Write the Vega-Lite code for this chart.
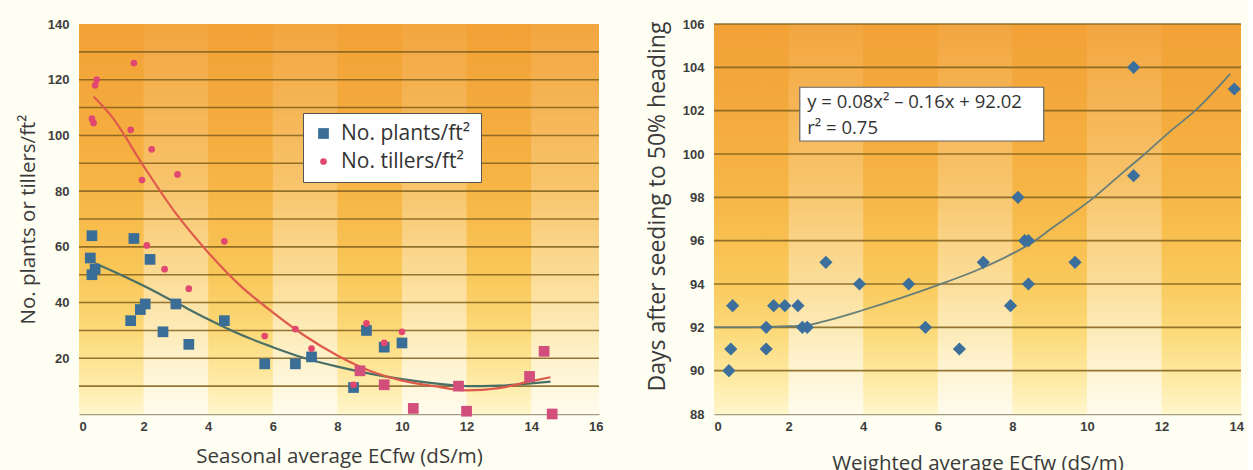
{
  "$schema": "https://vega.github.io/schema/vega-lite/v6.json",
  "background": "#fffef2",
  "padding": {"left": 18, "top": 18, "right": 4, "bottom": 0},
  "spacing": 115,
  "bounds": "flush",
  "config": {
    "view": {"stroke": null},
    "font": "Open Sans",
    "axis": {
      "labelFont": "Liberation Sans",
      "labelFontWeight": "bold",
      "labelFontSize": 13,
      "labelColor": "#3d3d3d",
      "ticks": false,
      "grid": false,
      "titleFont": "Open Sans",
      "titleFontWeight": "normal",
      "titleFontSize": 20.5,
      "titleColor": "#3a3a3a"
    },
    "axisY": {"domain": false, "labelPadding": 10, "titlePadding": 9},
    "axisX": {"domain": true, "domainColor": "#a39d84", "domainWidth": 1.5, "labelPadding": 6, "titlePadding": 13}
  },
  "datasets": {
    "one": [{}],
    "leftBands": [{"from": 2, "to": 4}, {"from": 6, "to": 8}, {"from": 10, "to": 12}, {"from": 14, "to": 16.1}],
    "leftGrid": [{"v": 10}, {"v": 20}, {"v": 30}, {"v": 40}, {"v": 50}, {"v": 60}, {"v": 70}, {"v": 80}, {"v": 90}, {"v": 100}, {"v": 110}, {"v": 120}, {"v": 130}],
    "fits": [
      {"ec": 0.5, "count": 54, "series": "plants"}, {"ec": 1, "count": 51.5, "series": "plants"}, {"ec": 2, "count": 46, "series": "plants"},
      {"ec": 3, "count": 40, "series": "plants"}, {"ec": 4, "count": 34, "series": "plants"}, {"ec": 5, "count": 28.5, "series": "plants"},
      {"ec": 6, "count": 24, "series": "plants"}, {"ec": 7, "count": 20, "series": "plants"}, {"ec": 8, "count": 17, "series": "plants"},
      {"ec": 9, "count": 14.5, "series": "plants"}, {"ec": 10, "count": 12.5, "series": "plants"}, {"ec": 11, "count": 11, "series": "plants"},
      {"ec": 12, "count": 10, "series": "plants"}, {"ec": 13, "count": 10.2, "series": "plants"}, {"ec": 14, "count": 11, "series": "plants"},
      {"ec": 14.6, "count": 11.6, "series": "plants"},
      {"ec": 0.45, "count": 114, "series": "tillers"}, {"ec": 1, "count": 107, "series": "tillers"}, {"ec": 2, "count": 89, "series": "tillers"},
      {"ec": 3, "count": 72, "series": "tillers"}, {"ec": 4, "count": 58, "series": "tillers"}, {"ec": 5, "count": 46, "series": "tillers"},
      {"ec": 6, "count": 36.5, "series": "tillers"}, {"ec": 7, "count": 28, "series": "tillers"}, {"ec": 8, "count": 21, "series": "tillers"},
      {"ec": 9, "count": 15.5, "series": "tillers"}, {"ec": 10, "count": 12, "series": "tillers"}, {"ec": 11, "count": 10, "series": "tillers"},
      {"ec": 12, "count": 8.5, "series": "tillers"}, {"ec": 13, "count": 9.3, "series": "tillers"}, {"ec": 14, "count": 11.8, "series": "tillers"},
      {"ec": 14.6, "count": 13.2, "series": "tillers"}
    ],
    "counts": [
      {"ec": 0.4, "count": 64, "series": "No. plants/ft²"}, {"ec": 0.35, "count": 56, "series": "No. plants/ft²"},
      {"ec": 0.4, "count": 50, "series": "No. plants/ft²"}, {"ec": 0.5, "count": 52, "series": "No. plants/ft²"},
      {"ec": 1.7, "count": 63, "series": "No. plants/ft²"}, {"ec": 1.6, "count": 33.5, "series": "No. plants/ft²"},
      {"ec": 1.9, "count": 37.5, "series": "No. plants/ft²"}, {"ec": 2.05, "count": 39.5, "series": "No. plants/ft²"},
      {"ec": 2.2, "count": 55.5, "series": "No. plants/ft²"}, {"ec": 2.6, "count": 29.5, "series": "No. plants/ft²"},
      {"ec": 3.0, "count": 39.5, "series": "No. plants/ft²"}, {"ec": 3.4, "count": 25, "series": "No. plants/ft²"},
      {"ec": 4.5, "count": 33.5, "series": "No. plants/ft²"}, {"ec": 5.75, "count": 18, "series": "No. plants/ft²"},
      {"ec": 6.7, "count": 18, "series": "No. plants/ft²"}, {"ec": 7.2, "count": 20.5, "series": "No. plants/ft²"},
      {"ec": 8.5, "count": 9.5, "series": "No. plants/ft²"}, {"ec": 8.9, "count": 30, "series": "No. plants/ft²"},
      {"ec": 9.45, "count": 24, "series": "No. plants/ft²"}, {"ec": 10.0, "count": 25.5, "series": "No. plants/ft²"},
      {"ec": 0.55, "count": 120, "series": "No. tillers/ft²"}, {"ec": 0.5, "count": 118, "series": "No. tillers/ft²"},
      {"ec": 0.4, "count": 106, "series": "No. tillers/ft²"}, {"ec": 0.45, "count": 104.5, "series": "No. tillers/ft²"},
      {"ec": 1.7, "count": 126, "series": "No. tillers/ft²"}, {"ec": 1.6, "count": 102, "series": "No. tillers/ft²"},
      {"ec": 2.25, "count": 95, "series": "No. tillers/ft²"}, {"ec": 1.95, "count": 84, "series": "No. tillers/ft²"},
      {"ec": 3.05, "count": 86, "series": "No. tillers/ft²"}, {"ec": 2.1, "count": 60.5, "series": "No. tillers/ft²"},
      {"ec": 2.65, "count": 52, "series": "No. tillers/ft²"}, {"ec": 3.4, "count": 45, "series": "No. tillers/ft²"},
      {"ec": 4.5, "count": 62, "series": "No. tillers/ft²"}, {"ec": 5.75, "count": 28, "series": "No. tillers/ft²"},
      {"ec": 6.7, "count": 30.5, "series": "No. tillers/ft²"}, {"ec": 7.2, "count": 23.5, "series": "No. tillers/ft²"},
      {"ec": 8.5, "count": 10.5, "series": "No. tillers/ft²"}, {"ec": 8.9, "count": 32.5, "series": "No. tillers/ft²"},
      {"ec": 9.45, "count": 25.5, "series": "No. tillers/ft²"}, {"ec": 10.0, "count": 29.5, "series": "No. tillers/ft²"}
    ],
    "sameCounts": [
      {"ec": 8.7, "count": 15.5}, {"ec": 9.45, "count": 10.5}, {"ec": 10.35, "count": 2}, {"ec": 11.75, "count": 10},
      {"ec": 12.0, "count": 1}, {"ec": 13.95, "count": 13.5}, {"ec": 14.4, "count": 22.5}, {"ec": 14.65, "count": 0}
    ],
    "rightBands": [{"from": 2, "to": 4}, {"from": 6, "to": 8}, {"from": 10, "to": 12}],
    "rightGrid": [{"v": 90}, {"v": 92}, {"v": 94}, {"v": 96}, {"v": 98}, {"v": 100}, {"v": 102}, {"v": 104}, {"v": 106}],
    "headingFit": [
      {"ec": 0, "days": 92}, {"ec": 1, "days": 92}, {"ec": 2, "days": 92.05}, {"ec": 2.5, "days": 92.1},
      {"ec": 3, "days": 92.3}, {"ec": 4, "days": 92.8}, {"ec": 5, "days": 93.35}, {"ec": 6, "days": 93.95},
      {"ec": 7, "days": 94.6}, {"ec": 8, "days": 95.4}, {"ec": 8.57, "days": 95.95}, {"ec": 9, "days": 96.5},
      {"ec": 10.19, "days": 98.0}, {"ec": 11, "days": 99.2}, {"ec": 11.55, "days": 100.0}, {"ec": 12.2, "days": 101.0},
      {"ec": 12.9, "days": 102.0}, {"ec": 13.84, "days": 103.7}
    ],
    "heading": [
      {"ec": 0.4, "days": 90}, {"ec": 0.45, "days": 91}, {"ec": 0.5, "days": 93}, {"ec": 1.4, "days": 92},
      {"ec": 1.4, "days": 91}, {"ec": 1.6, "days": 93}, {"ec": 1.9, "days": 93}, {"ec": 2.25, "days": 93},
      {"ec": 2.37, "days": 92}, {"ec": 2.5, "days": 92}, {"ec": 3.0, "days": 95}, {"ec": 3.9, "days": 94},
      {"ec": 5.22, "days": 94}, {"ec": 5.67, "days": 92}, {"ec": 6.58, "days": 91}, {"ec": 7.22, "days": 95},
      {"ec": 7.95, "days": 93}, {"ec": 8.15, "days": 98}, {"ec": 8.33, "days": 96}, {"ec": 8.43, "days": 96},
      {"ec": 8.43, "days": 94}, {"ec": 9.68, "days": 95}, {"ec": 11.25, "days": 104}, {"ec": 11.25, "days": 99},
      {"ec": 13.95, "days": 103}
    ]
  },
  "hconcat": [
    {
      "width": 520,
      "height": 390,
      "layer": [
        {
          "data": {"name": "one"},
          "mark": {
            "type": "rect",
            "fill": {
              "gradient": "linear", "x1": 0, "y1": 0, "x2": 0, "y2": 1,
              "stops": [
                {"offset": 0, "color": "#f2a135"},
                {"offset": 0.2, "color": "#f4a93c"},
                {"offset": 0.45, "color": "#f6b746"},
                {"offset": 0.65, "color": "#f9c85a"},
                {"offset": 0.8, "color": "#fcdb7c"},
                {"offset": 0.92, "color": "#feeba8"},
                {"offset": 1, "color": "#fff6cc"}
              ]
            }
          },
          "encoding": {
            "x": {
              "datum": 0, "type": "quantitative",
              "scale": {"domain": [0, 16.1], "nice": false},
              "axis": {"values": [0, 2, 4, 6, 8, 10, 12, 14, 16], "title": "Seasonal average ECfw (dS/m)"}
            },
            "x2": {"datum": 16.1},
            "y": {
              "datum": 0, "type": "quantitative",
              "scale": {"domain": [0, 140], "nice": false},
              "axis": {"values": [20, 40, 60, 80, 100, 120, 140], "title": "No. plants or tillers/ft²"}
            },
            "y2": {"datum": 140}
          }
        },
        {
          "data": {"name": "leftBands"},
          "mark": {
            "type": "rect",
            "fill": {
              "gradient": "linear", "x1": 0, "y1": 0, "x2": 0, "y2": 1,
              "stops": [
                {"offset": 0, "color": "rgba(255,255,255,0.05)"},
                {"offset": 0.4, "color": "rgba(255,255,255,0.2)"},
                {"offset": 0.7, "color": "rgba(255,255,255,0.4)"},
                {"offset": 1, "color": "rgba(255,255,255,0.65)"}
              ]
            }
          },
          "encoding": {
            "x": {"field": "from", "type": "quantitative"},
            "x2": {"field": "to"},
            "y": {"datum": 0},
            "y2": {"datum": 140}
          }
        },
        {
          "data": {"name": "leftGrid"},
          "mark": {"type": "rule", "color": "#80601c", "strokeWidth": 1.6, "opacity": 0.85},
          "encoding": {"y": {"field": "v", "type": "quantitative"}}
        },
        {
          "data": {"name": "fits"},
          "mark": {"type": "line", "interpolate": "monotone", "strokeWidth": 2.2},
          "encoding": {
            "x": {"field": "ec", "type": "quantitative"},
            "y": {"field": "count", "type": "quantitative"},
            "detail": {"field": "series"},
            "stroke": {
              "field": "series", "type": "nominal",
              "scale": {"domain": ["plants", "tillers"], "range": ["#4a6f66", "#de5a4b"]},
              "legend": null
            }
          }
        },
        {
          "data": {"name": "counts"},
          "mark": {"type": "point", "filled": true, "opacity": 1, "clip": false},
          "encoding": {
            "x": {"field": "ec", "type": "quantitative"},
            "y": {"field": "count", "type": "quantitative"},
            "color": {
              "field": "series", "type": "nominal",
              "scale": {"domain": ["No. plants/ft²", "No. tillers/ft²"], "range": ["#3b6e96", "#e2486f"]},
              "legend": {
                "orient": "none", "legendX": 224, "legendY": 89, "title": null,
                "fillColor": "#ffffff", "strokeColor": "#555555", "padding": 10,
                "labelFont": "Open Sans", "labelFontSize": 21, "labelColor": "#333333",
                "symbolSize": 60, "rowPadding": 6, "labelOffset": 7, "labelLimit": 300
              }
            },
            "shape": {
              "field": "series", "type": "nominal",
              "scale": {"domain": ["No. plants/ft²", "No. tillers/ft²"], "range": ["square", "circle"]},
              "legend": {
                "orient": "none", "legendX": 224, "legendY": 89, "title": null,
                "fillColor": "#ffffff", "strokeColor": "#555555", "padding": 10,
                "labelFont": "Open Sans", "labelFontSize": 21, "labelColor": "#333333",
                "symbolSize": 60, "rowPadding": 6, "labelOffset": 7, "labelLimit": 300
              }
            },
            "size": {
              "field": "series", "type": "nominal",
              "scale": {"domain": ["No. plants/ft²", "No. tillers/ft²"], "range": [115, 45]},
              "legend": null
            }
          }
        },
        {
          "data": {"name": "sameCounts"},
          "mark": {"type": "square", "filled": true, "color": "#d24e7b", "size": 115, "opacity": 1, "clip": false},
          "encoding": {
            "x": {"field": "ec", "type": "quantitative"},
            "y": {"field": "count", "type": "quantitative"}
          }
        }
      ]
    },
    {
      "width": 527,
      "height": 390,
      "layer": [
        {
          "data": {"name": "one"},
          "mark": {
            "type": "rect",
            "fill": {
              "gradient": "linear", "x1": 0, "y1": 0, "x2": 0, "y2": 1,
              "stops": [
                {"offset": 0, "color": "#f2a135"},
                {"offset": 0.2, "color": "#f4a93c"},
                {"offset": 0.45, "color": "#f6b746"},
                {"offset": 0.65, "color": "#f9c85a"},
                {"offset": 0.8, "color": "#fcdb7c"},
                {"offset": 0.92, "color": "#feeba8"},
                {"offset": 1, "color": "#fff6cc"}
              ]
            }
          },
          "encoding": {
            "x": {
              "datum": 0, "type": "quantitative",
              "scale": {"domain": [0, 14.13], "nice": false},
              "axis": {"values": [0, 2, 4, 6, 8, 10, 12, 14], "title": "Weighted average ECfw (dS/m)", "titlePadding": 20}
            },
            "x2": {"datum": 14.13},
            "y": {
              "datum": 88, "type": "quantitative",
              "scale": {"domain": [88, 106], "nice": false, "zero": false},
              "axis": {"values": [88, 90, 92, 94, 96, 98, 100, 102, 104, 106], "title": "Days after seeding to 50% heading", "titlePadding": 13, "titleFontSize": 23, "titleY": 182}
            },
            "y2": {"datum": 106}
          }
        },
        {
          "data": {"name": "rightBands"},
          "mark": {
            "type": "rect",
            "fill": {
              "gradient": "linear", "x1": 0, "y1": 0, "x2": 0, "y2": 1,
              "stops": [
                {"offset": 0, "color": "rgba(255,255,255,0.05)"},
                {"offset": 0.4, "color": "rgba(255,255,255,0.2)"},
                {"offset": 0.7, "color": "rgba(255,255,255,0.4)"},
                {"offset": 1, "color": "rgba(255,255,255,0.65)"}
              ]
            }
          },
          "encoding": {
            "x": {"field": "from", "type": "quantitative"},
            "x2": {"field": "to"},
            "y": {"datum": 88},
            "y2": {"datum": 106}
          }
        },
        {
          "data": {"name": "rightGrid"},
          "mark": {"type": "rule", "color": "#80601c", "strokeWidth": 1.6, "opacity": 0.85},
          "encoding": {"y": {"field": "v", "type": "quantitative"}}
        },
        {
          "data": {"name": "one"},
          "mark": {"type": "rect", "fill": "#ffffff", "stroke": "#666666", "strokeWidth": 1.2},
          "encoding": {
            "x": {"datum": 2.3},
            "x2": {"datum": 8.84},
            "y": {"datum": 103.08},
            "y2": {"datum": 100.6}
          }
        },
        {
          "data": {"name": "one"},
          "mark": {"type": "text", "align": "left", "baseline": "middle", "font": "Open Sans", "fontSize": 18.5, "color": "#333333"},
          "encoding": {
            "x": {"datum": 2.5},
            "y": {"datum": 102.4},
            "text": {"value": "y = 0.08x² – 0.16x + 92.02"}
          }
        },
        {
          "data": {"name": "one"},
          "mark": {"type": "text", "align": "left", "baseline": "middle", "font": "Open Sans", "fontSize": 18.5, "color": "#333333"},
          "encoding": {
            "x": {"datum": 2.5},
            "y": {"datum": 101.2},
            "text": {"value": "r² = 0.75"}
          }
        },
        {
          "data": {"name": "headingFit"},
          "mark": {"type": "line", "interpolate": "monotone", "strokeWidth": 1.8, "color": "#677e78"},
          "encoding": {
            "x": {"field": "ec", "type": "quantitative"},
            "y": {"field": "days", "type": "quantitative"}
          }
        },
        {
          "data": {"name": "heading"},
          "mark": {"type": "point", "shape": "diamond", "filled": true, "color": "#3d6f9c", "size": 175, "opacity": 1},
          "encoding": {
            "x": {"field": "ec", "type": "quantitative"},
            "y": {"field": "days", "type": "quantitative"}
          }
        }
      ]
    }
  ]
}
